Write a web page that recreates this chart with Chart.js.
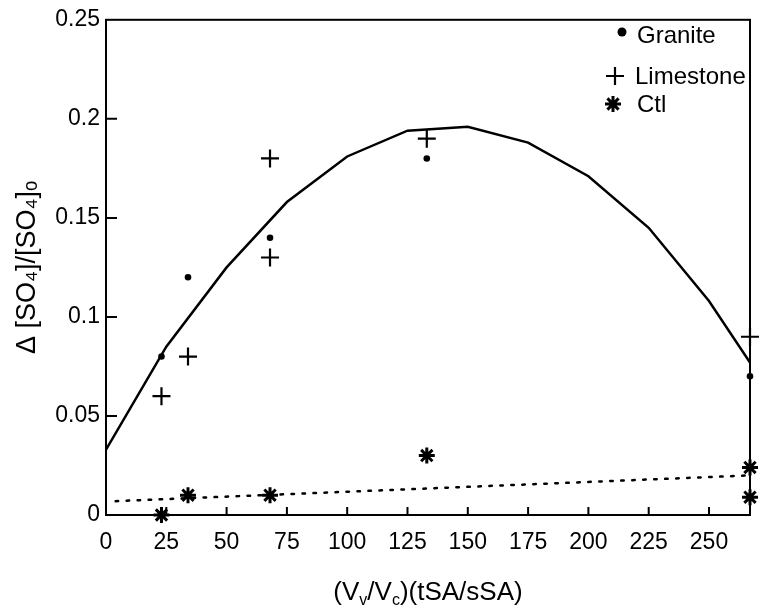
<!DOCTYPE html>
<html lang="en">
<head>
<meta charset="UTF-8">
<title>Sulfate change vs (Vv/Vc)(tSA/sSA)</title>
<script src="https://cdn.jsdelivr.net/npm/chart.js"></script>
<style>
  html, body { margin: 0; padding: 0; background: #fff; }
</style>
</head>
<body>
<canvas id="sulfateChart" width="762" height="613"></canvas>
<script>
// values
const xTicks = [0, 25, 50, 75, 100, 125, 150, 175, 200, 225, 250];
const yTicks = [0, 0.05, 0.1, 0.15, 0.2, 0.25];

const graniteX = [23, 34, 68, 133, 267];
const graniteY = [0.08, 0.12, 0.14, 0.18, 0.07];

const limestoneX = [23, 34, 68, 68, 133, 267];
const limestoneY = [0.06, 0.08, 0.13, 0.18, 0.19, 0.09];

const ctlX = [23, 34, 68, 133, 267, 267];
const ctlY = [0, 0.01, 0.01, 0.03, 0.024, 0.009];

// solid fitted curve (rock samples)
const fitX = [0, 25, 50, 75, 100, 125, 150, 175, 200, 225, 250, 267];
const fitY = [0.033, 0.085, 0.125, 0.158, 0.181, 0.194, 0.196, 0.188, 0.171, 0.145, 0.108, 0.077];

// dotted fitted line (control)
const ctlFitX = [4, 267];
const ctlFitY = [0.007, 0.020];

const FONT = '"Liberation Sans", Arial, Helvetica, sans-serif';

function pts(xs, ys) {
	return xs.map((x, i) => ({ x: x, y: ys[i] }));
}

// box round the plot + inward tick marks
const framePlugin = {
	id: 'frame',
	afterDraw(chart) {
		const ctx = chart.ctx;
		const a = chart.chartArea;
		const xs = chart.scales.x, ys = chart.scales.y;
		ctx.save();
		ctx.strokeStyle = '#000';
		ctx.lineWidth = 2;
		ctx.strokeRect(a.left, a.top, a.right - a.left, a.bottom - a.top);
		ctx.beginPath();
		xTicks.forEach(v => {
			if (v === 0) return;
			const px = xs.getPixelForValue(v);
			ctx.moveTo(px, a.bottom);
			ctx.lineTo(px, a.bottom - 8);
		});
		yTicks.forEach(v => {
			if (v === 0 || v === 0.25) return;
			const py = ys.getPixelForValue(v);
			ctx.moveTo(a.left, py);
			ctx.lineTo(a.left + 11, py);
		});
		ctx.stroke();
		ctx.restore();
	}
};

// x axis title with subscripts
const xTitlePlugin = {
	id: 'xTitle',
	afterDraw(chart) {
		const ctx = chart.ctx;
		const a = chart.chartArea;
		const runs = [['(V', 0], ['v', 1], ['/V', 0], ['c', 1], [')(tSA/sSA)', 0]];
		ctx.save();
		ctx.fillStyle = '#000';
		ctx.textBaseline = 'alphabetic';
		let w = 0;
		runs.forEach(r => {
			ctx.font = (r[1] ? '16px ' : '26px ') + FONT;
			w += ctx.measureText(r[0]).width;
		});
		let x = (a.left + a.right) / 2 - w / 2;
		const base = 600;
		runs.forEach(r => {
			ctx.font = (r[1] ? '16px ' : '26px ') + FONT;
			ctx.fillText(r[0], x, r[1] ? base + 5 : base);
			x += ctx.measureText(r[0]).width;
		});
		ctx.restore();
	}
};

// legend in the top right corner of the plot
const legendPlugin = {
	id: 'cornerLegend',
	afterDraw(chart) {
		const ctx = chart.ctx;
		const items = [
			{ label: 'Granite', kind: 'dot', mx: 622, tx: 637, y: 35 },
			{ label: 'Limestone', kind: 'cross', mx: 615, tx: 635, y: 76 },
			{ label: 'Ctl', kind: 'star', mx: 613, tx: 637, y: 104 }
		];
		ctx.save();
		ctx.fillStyle = '#000';
		ctx.strokeStyle = '#000';
		ctx.font = '24px ' + FONT;
		ctx.textBaseline = 'middle';
		items.forEach(it => {
			ctx.beginPath();
			if (it.kind === 'dot') {
				ctx.arc(it.mx, it.y - 3, 4.5, 0, Math.PI * 2);
				ctx.fill();
			} else if (it.kind === 'cross') {
				ctx.lineWidth = 2.2;
				ctx.moveTo(it.mx - 9, it.y); ctx.lineTo(it.mx + 9, it.y);
				ctx.moveTo(it.mx, it.y - 9); ctx.lineTo(it.mx, it.y + 9);
				ctx.stroke();
			} else {
				ctx.lineWidth = 3;
				const r = 8, d = r * 0.7;
				ctx.moveTo(it.mx - r, it.y); ctx.lineTo(it.mx + r, it.y);
				ctx.moveTo(it.mx, it.y - r); ctx.lineTo(it.mx, it.y + r);
				ctx.moveTo(it.mx - d, it.y - d); ctx.lineTo(it.mx + d, it.y + d);
				ctx.moveTo(it.mx - d, it.y + d); ctx.lineTo(it.mx + d, it.y - d);
				ctx.stroke();
			}
			ctx.fillText(it.label, it.tx, it.y + 1);
		});
		ctx.restore();
	}
};

var ctx = document.getElementById('sulfateChart').getContext('2d');
var sulfateChart = new Chart(ctx, {
	type: 'scatter',
	data: {
		datasets: [
			{
				label: 'Granite',
				data: pts(graniteX, graniteY),
				pointStyle: 'circle',
				pointRadius: 3.3,
				backgroundColor: '#000',
				borderColor: '#000',
				borderWidth: 0,
				clip: false
			},
			{
				label: 'Limestone',
				data: pts(limestoneX, limestoneY),
				pointStyle: 'cross',
				pointRadius: 9,
				borderColor: '#000',
				borderWidth: 2.2,
				clip: false
			},
			{
				label: 'Ctl',
				data: pts(ctlX, ctlY),
				pointStyle: 'star',
				pointRadius: 8,
				borderColor: '#000',
				borderWidth: 3,
				clip: false
			},
			{
				label: 'fit',
				data: pts(fitX, fitY),
				showLine: true,
				pointRadius: 0,
				borderColor: '#000',
				borderWidth: 2.5,
				tension: 0
			},
			{
				label: 'ctl fit',
				data: pts(ctlFitX, ctlFitY),
				showLine: true,
				pointRadius: 0,
				borderColor: '#000',
				borderWidth: 2.5,
				borderDash: [2.5, 8.5],
				borderCapStyle: 'round'
			}
		]
	},
	options: {
		responsive: false,
		animation: false,
		layout: { padding: { top: 18, right: 12, left: 0, bottom: 0 } },
		plugins: {
			legend: { display: false },
			tooltip: { enabled: false }
		},
		scales: {
			x: {
				type: 'linear',
				min: 0,
				max: 267,
				afterBuildTicks: s => { s.ticks = xTicks.map(v => ({ value: v })); },
				afterFit: s => { s.height = 98; },
				grid: { display: false, drawTicks: false },
				border: { display: false },
				ticks: {
					color: '#000',
					padding: 14,
					maxRotation: 0,
					font: { family: FONT, size: 23 }
				}
			},
			y: {
				type: 'linear',
				min: 0,
				max: 0.25,
				afterBuildTicks: s => { s.ticks = yTicks.map(v => ({ value: v })); },
				afterFit: s => { s.width = 106; },
				grid: { display: false, drawTicks: false },
				border: { display: false },
				ticks: {
					color: '#000',
					padding: 6,
					font: { family: FONT, size: 23 },
					callback: v => String(v)
				},
				title: {
					display: true,
					text: 'Δ [SO₄]/[SO₄]ₒ',
					color: '#000',
					padding: { top: 11, bottom: 0 },
					font: { family: FONT, size: 27 }
				}
			}
		}
	},
	plugins: [framePlugin, xTitlePlugin, legendPlugin]
});
</script>
</body>
</html>
